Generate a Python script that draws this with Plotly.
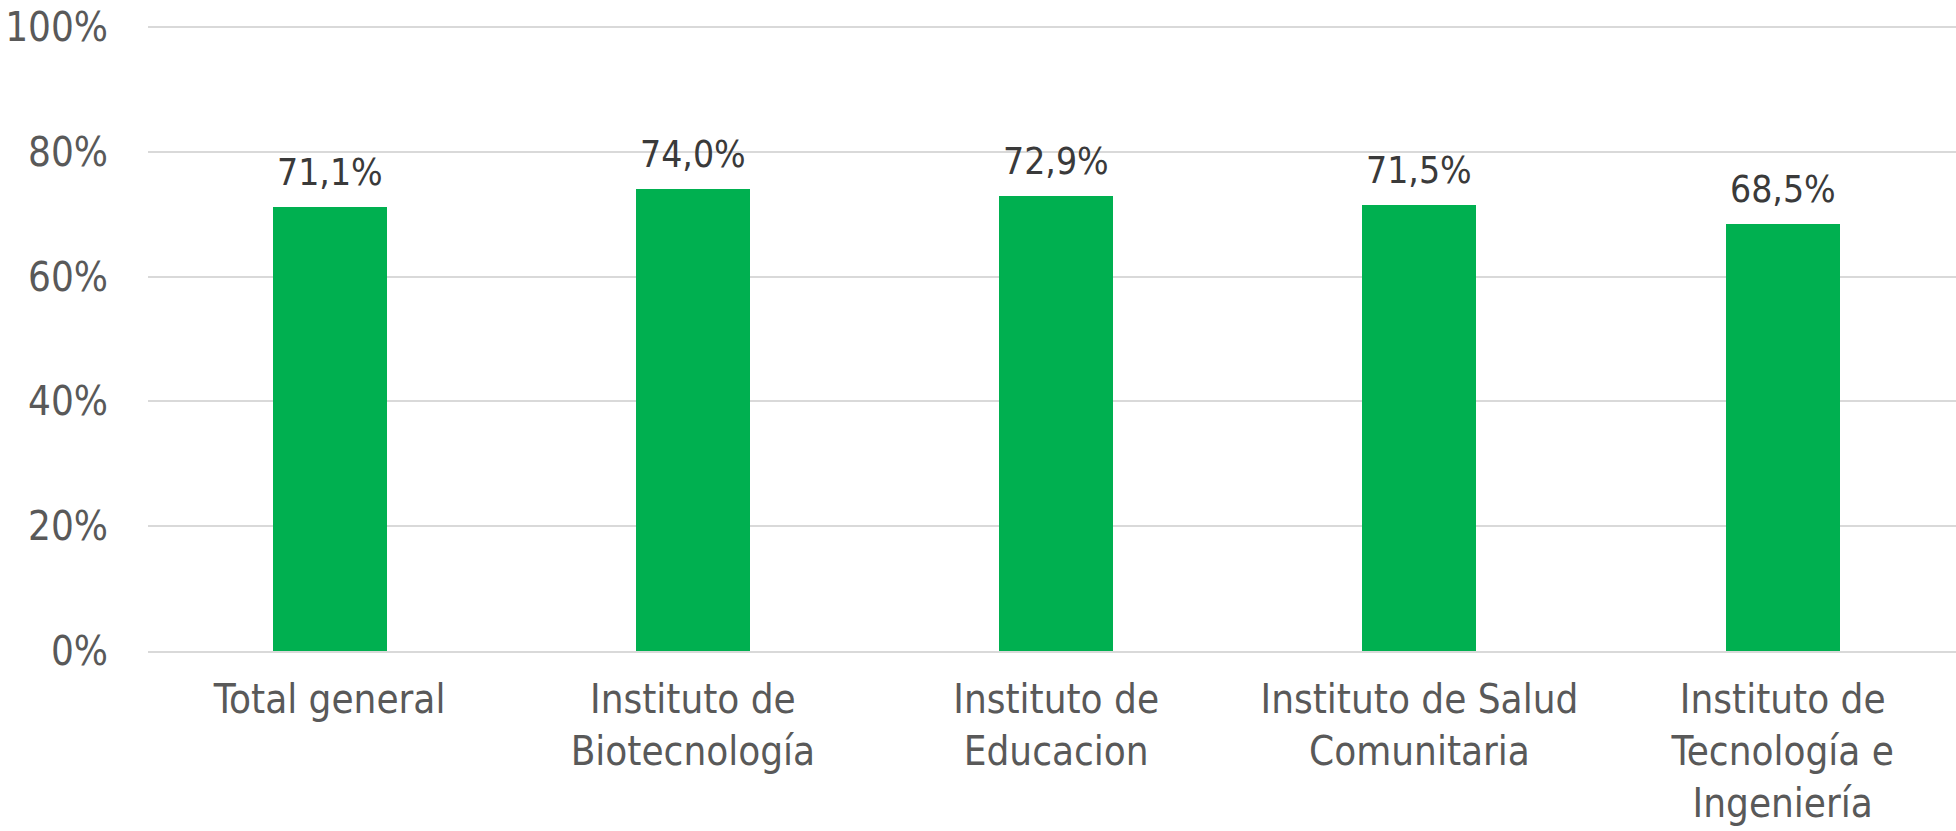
import plotly.graph_objects as go

categories = [
    "Total general",
    "Instituto de<br>Biotecnología",
    "Instituto de<br>Educacion",
    "Instituto de Salud<br>Comunitaria",
    "Instituto de<br>Tecnología e<br>Ingeniería",
]
values = [71.1, 74.0, 72.9, 71.5, 68.5]
labels = ["71,1%", "74,0%", "72,9%", "71,5%", "68,5%"]
y_ticks = [0, 20, 40, 60, 80, 100]
y_ticktext = ["0%", "20%", "40%", "60%", "80%", "100%"]

FONT = "DejaVu Sans Condensed, sans-serif"

fig = go.Figure(
    go.Bar(
        x=categories,
        y=values,
        marker=dict(color="#00B050", line=dict(width=0)),
        width=0.314,
        hoverinfo="x+y",
    )
)

for c, v, t in zip(categories, values, labels):
    fig.add_annotation(
        x=c, y=v, text=t, showarrow=False,
        xref="x", yref="y", yanchor="bottom", yshift=11,
        font=dict(family=FONT, size=37, color="#3a3a3a"),
    )

fig.update_layout(
    width=1956,
    height=831,
    margin=dict(l=148, r=0, t=21, b=180, autoexpand=False),
    paper_bgcolor="white",
    plot_bgcolor="white",
    showlegend=False,
    font=dict(family=FONT, size=40, color="#595959"),
    bargap=0,
)
fig.update_xaxes(
    type="category",
    range=[-0.5, 4.477],
    automargin=False,
    showgrid=False,
    showline=True,
    linecolor="#d9d9d9",
    linewidth=2,
    ticks="",
    ticklabelstandoff=12,
    tickfont=dict(family=FONT, size=40, color="#595959"),
)
fig.update_yaxes(
    range=[0, 100.96],
    automargin=False,
    tickvals=y_ticks,
    ticktext=y_ticktext,
    showgrid=True,
    gridcolor="#d9d9d9",
    gridwidth=2,
    zeroline=False,
    showline=False,
    ticks="",
    ticklabelstandoff=39,
    tickfont=dict(family=FONT, size=40, color="#595959"),
)

fig.write_html(
    "out.html",
    config={"displayModeBar": False},
    post_script="document.body.style.margin='0';",
)
